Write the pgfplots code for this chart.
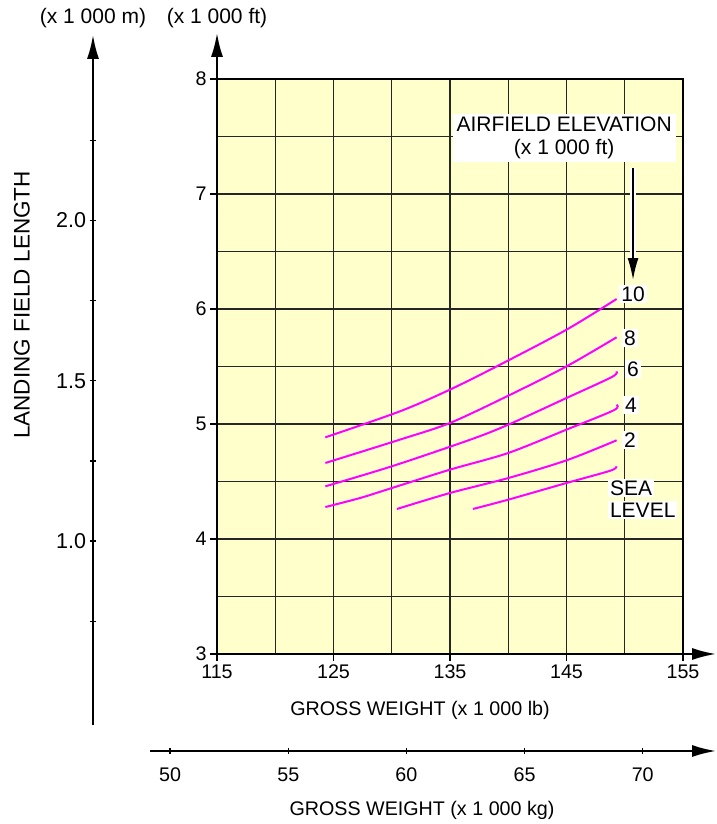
\documentclass[border=0pt]{standalone}
\usepackage{pgfplots}
\pgfplotsset{compat=1.18}
\usepackage{fontspec}
\setmainfont{Liberation Sans}
\usetikzlibrary{arrows.meta}
\definecolor{chartbg}{HTML}{FFFFCC}
\definecolor{curve}{HTML}{FF00FF}
\newcommand{\lbl}{\fontsize{19.7}{22}\selectfont}
\newcommand{\inlbl}{\fontsize{21}{22}\selectfont}
\tikzset{bigarrow/.style={-{Latex[length=24pt,width=12pt]}, line width=2pt}}
\pgfplotsset{
  every axis/.append style={
    scale only axis,
    /pgf/number format/assume math mode=true,
    tick label style={font=\lbl},
    tick style={black, line width=1.2pt},
    tick align=outside,
  },
}
\begin{document}
\begin{tikzpicture}[x=1pt,y=1pt,font=\lbl]
\path[use as bounding box] (0pt,0pt) rectangle (716pt,824pt);

% main chart: landing length (x 1000 ft) vs gross weight (x 1000 lb)
\begin{axis}[
  name=main,
  at={(217pt,170pt)}, anchor=south west,
  width=466pt, height=575pt,
  xmin=115, xmax=155, ymin=3, ymax=8,
  xtick={115,125,...,155}, minor xtick={120,130,140,150},
  ytick={3,4,...,8}, minor ytick={3.5,4.5,5.5,6.5,7.5},
  xtick pos=left, ytick pos=left,
  major tick length=7pt, minor tick length=0pt,
  grid=both,
  major grid style={black!85, line width=1.1pt},
  minor grid style={black!85, line width=1.1pt},
  axis background/.style={fill=chartbg},
  axis line style={line width=2pt},
]
% 10 000 ft
\addplot[curve, line width=2pt, smooth] coordinates {
  (124.3,4.884) (130.7,5.110) (135.0,5.299) (139.3,5.516) (145.0,5.820) (149.3,6.087)};
% 8 000 ft
\addplot[curve, line width=2pt, smooth] coordinates {
  (124.3,4.661) (130.7,4.864) (135.0,5.009) (140.0,5.246) (145.0,5.501) (149.3,5.754)};
% 6 000 ft
\addplot[curve, line width=2pt, smooth] coordinates {
  (124.3,4.458) (130.0,4.632) (136.75,4.864) (140.0,4.994) (145.0,5.226) (148.9,5.409) (149.3,5.458)};
% 4 000 ft
\addplot[curve, line width=2pt, smooth] coordinates {
  (124.3,4.278) (127.3,4.357) (130.0,4.443) (135.0,4.603) (140.0,4.748) (145.0,4.951) (149.05,5.119) (149.3,5.168)};
% 2 000 ft
\addplot[curve, line width=2pt, smooth] coordinates {
  (130.45,4.261) (135.0,4.400) (140.0,4.530) (145.0,4.684) (149.3,4.858)};
% sea level
\addplot[curve, line width=2pt, smooth] coordinates {
  (136.97,4.261) (140.0,4.342) (145.0,4.487) (148.76,4.594) (149.3,4.632)};

\node[fill=white, inner sep=2pt, font=\inlbl] at (axis cs:150.71,6.13) {10};
\node[fill=white, inner sep=2pt, font=\inlbl] at (axis cs:150.45,5.748) {8};
\node[fill=white, inner sep=2pt, font=\inlbl] at (axis cs:150.71,5.478) {6};
\node[fill=white, inner sep=2pt, font=\inlbl] at (axis cs:150.54,5.165) {4};
\node[fill=white, inner sep=2pt, font=\inlbl] at (axis cs:150.45,4.861) {2};
\node[fill=white, inner sep=2pt, anchor=west, font=\inlbl] at (axis cs:148.55,4.443) {SEA};
\node[fill=white, inner sep=2pt, anchor=west, font=\inlbl] at (axis cs:148.55,4.252) {LEVEL};
\node[fill=white, inner xsep=4pt, inner ysep=3pt, align=center, font=\fontsize{21}{23}\selectfont]
  at (axis cs:144.80,7.49) {AIRFIELD ELEVATION\\(x 1 000 ft)};
\draw[white, line width=6pt] (axis cs:150.71,7.226) -- (axis cs:150.71,6.40);
\draw[black, -{Latex[length=22pt,width=11pt]}, line width=1.8pt]
  (axis cs:150.71,7.226) -- (axis cs:150.71,6.252);
\end{axis}

% arrows on the main axes
\draw[bigarrow] (main.south east) -- (716pt,170pt);
\draw[bigarrow] (main.north west) -- (217pt,791pt);

% metre scale on the left
\begin{axis}[
  at={(93pt,99pt)}, anchor=south west,
  width=1pt, height=690pt,
  xmin=0, xmax=1,
  ymin=0.426, ymax=2.579,
  axis y line=left, axis x line=none,
  ytick={1,1.5,2}, minor ytick={0.75,1.25,1.75,2.25},
  major tick length=7pt, minor tick length=7pt,
  yticklabel style={font=\fontsize{21.5}{23}\selectfont,
    /pgf/number format/.cd, fixed, fixed zerofill, precision=1},
  axis line style={line width=2pt, -{Latex[length=24pt,width=12pt]}},
]
\end{axis}

% kilogram scale at the bottom
\begin{axis}[
  at={(150pt,73pt)}, anchor=south west,
  width=566pt, height=1pt,
  xmin=49.15, xmax=73.1, ymin=0, ymax=1,
  axis x line=bottom, axis y line=none,
  xtick={50,55,...,70},
  major tick length=7pt,
  xticklabel style={yshift=-10pt},
  axis line style={line width=2pt, -{Latex[length=24pt,width=12pt]}},
]
\end{axis}

\node[font=\fontsize{21}{23}\selectfont] at (93pt,806pt) {(x 1 000 m)};
\node[font=\fontsize{21}{23}\selectfont] at (217pt,806pt) {(x 1 000 ft)};
\node[rotate=90, font=\fontsize{22.5}{24}\selectfont] at (22pt,519pt) {LANDING FIELD LENGTH};
\node at (420pt,114pt) {GROSS WEIGHT (x 1 000 lb)};
\node at (422pt,14pt) {GROSS WEIGHT (x 1 000 kg)};
\end{tikzpicture}
\end{document}
